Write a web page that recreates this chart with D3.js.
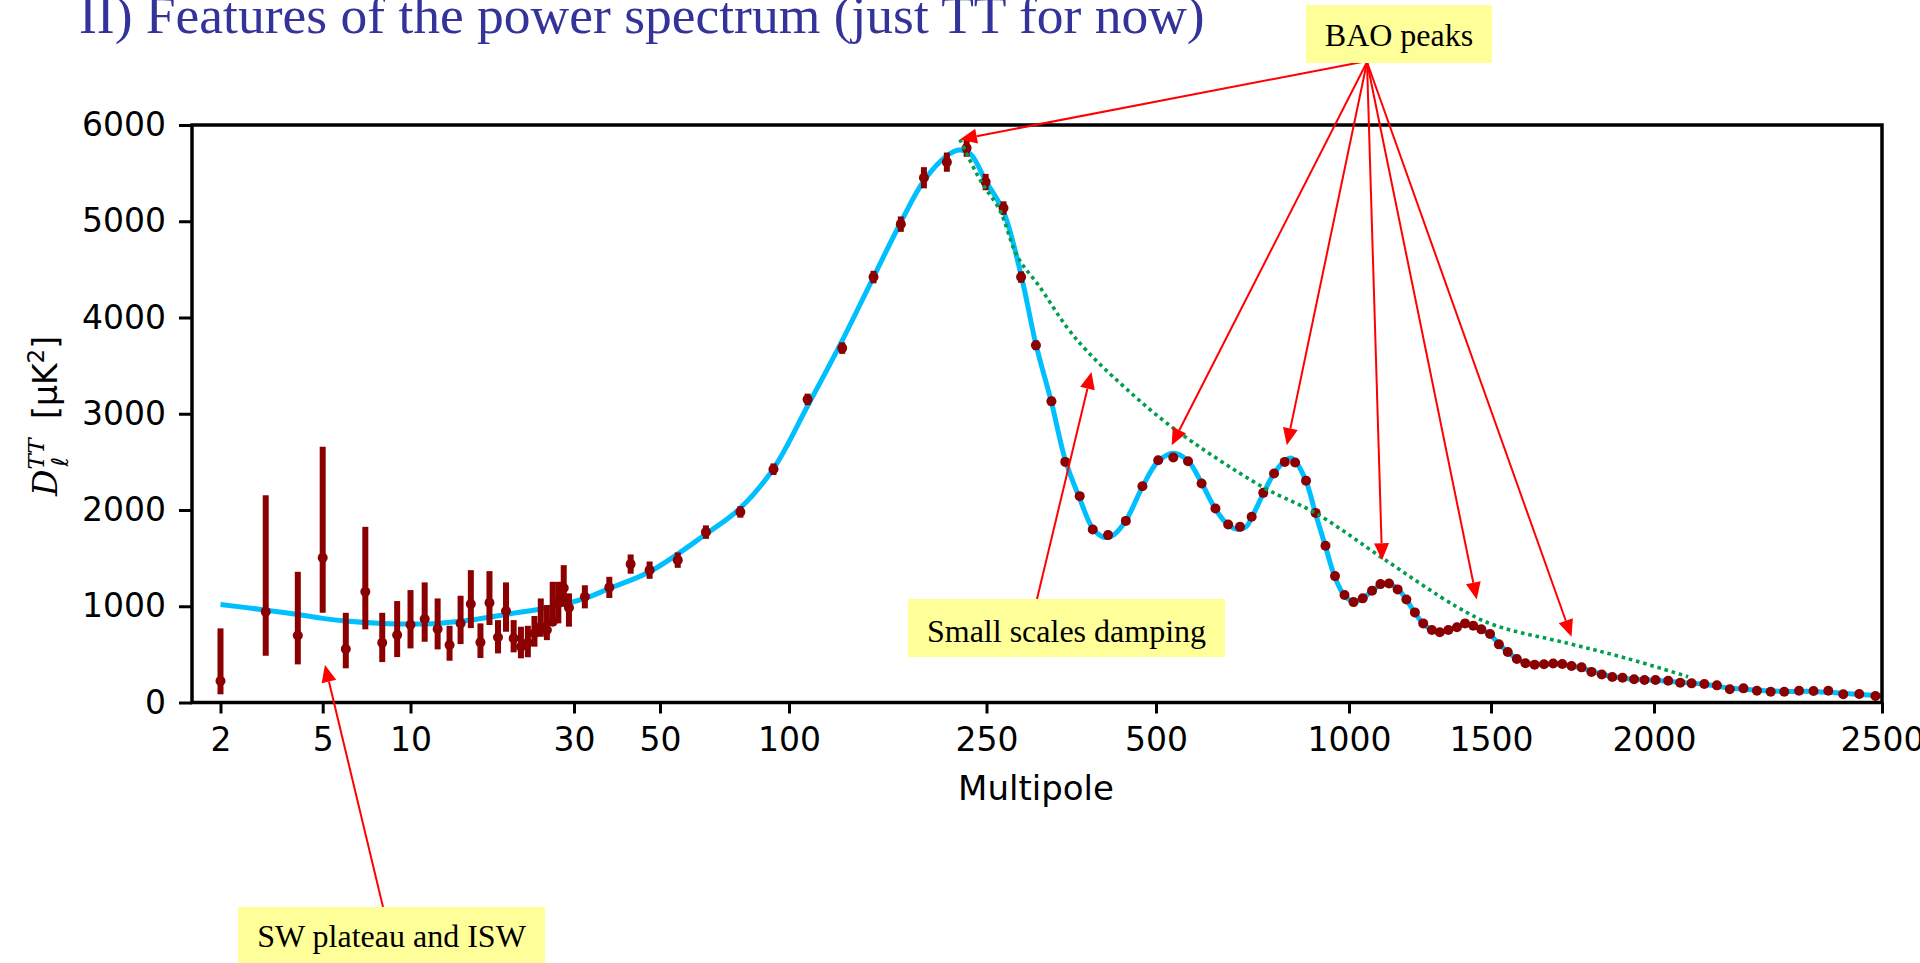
<!DOCTYPE html>
<html>
<head>
<meta charset="utf-8">
<script src="https://cdn.jsdelivr.net/npm/d3@7"></script>
<style>
  body { margin: 0; background: #fff; }
  svg { display: block; }
</style>
</head>
<body>
<svg id="chart" width="1920" height="963"></svg>
<script>
// ---- datos ----

// marcas del eje x (multipolo)
var tickEll = [2, 5, 10, 30, 50, 100, 250, 500, 1000, 1500, 2000, 2500];
var tickDl = [0, 1000, 2000, 3000, 4000, 5000, 6000];

// multipolos bajos, sin agrupar (l = 2..29)
var lowEll = [2, 3, 4, 5, 6, 7, 8, 9, 10, 11, 12, 13, 14, 15, 16, 17, 18, 19, 20, 21, 22, 23, 24, 25, 26, 27, 28, 29];
var lowDl  = [223, 943, 697, 1503, 555, 1150, 621, 701, 808, 867, 763, 597, 822, 1023, 625, 1036, 677, 950, 666, 580, 621, 718, 787, 753, 839, 1047, 1190, 984];
var lowMin = [85, 486, 396, 932, 355, 760, 420, 472, 562, 631, 552, 434, 607, 773, 462, 805, 510, 735, 521, 459, 470, 580, 683, 648, 805, 822, 995, 788];
var lowMax = [770, 2154, 1358, 2656, 932, 1825, 932, 1054, 1168, 1248, 1081, 797, 1109, 1375, 822, 1365, 856, 1248, 856, 787, 797, 899, 1081, 1012, 1254, 1254, 1427, 1134];

// multipolos altos, agrupados
var binEll = [32, 37, 42, 47, 55, 64, 77, 92, 109, 128, 148, 168, 187, 208, 228, 249, 268, 288, 306, 326,
              345, 366, 386, 411, 442, 473, 504, 532, 561, 589, 619, 648, 676, 705, 735, 764, 794, 824, 857, 887,
              919, 951, 984, 1013, 1040, 1068, 1094, 1121, 1149, 1178, 1207, 1236, 1267, 1296, 1328, 1361, 1393, 1426, 1459, 1496,
              1521, 1545, 1570, 1594, 1620, 1647, 1674, 1701, 1729, 1760, 1791, 1824, 1858, 1892, 1931, 1967, 2003, 2028, 2052, 2075,
              2101, 2127, 2154, 2183, 2212, 2242, 2272, 2305, 2338, 2372, 2407, 2445, 2484];
var binDl  = [1098, 1196, 1438, 1375, 1479, 1770, 1980, 2424, 3149, 3682, 4420, 4970, 5452, 5614, 5760, 5407, 5137, 4420, 3711, 3130,
              2500, 2144, 1798, 1739, 1887, 2247, 2517, 2545, 2507, 2275, 2016, 1850, 1825, 1929, 2178, 2379, 2500, 2493, 2303, 1970,
              1628, 1313, 1116, 1043, 1082, 1161, 1230, 1237, 1175, 1071, 936, 822, 753, 729, 753, 781, 822, 797, 760, 711,
              604, 524, 452, 407, 393, 397, 405, 400, 379, 365, 318, 290, 265, 257, 241, 234, 234, 226, 206, 199,
              192, 178, 137, 147, 122, 112, 112, 122, 119, 122, 85, 88, 67];
var binErr = [120, 110, 100, 90, 80, 70, 60, 60, 60, 60, 65, 80, 110, 100, 90, 85, 70, 60, 50, 45,
              40, 40, 35, 35, 30, 30, 30, 30, 30, 30, 28, 28, 28, 28, 28, 28, 28, 28, 28, 28,
              25, 25, 25, 22, 22, 22, 22, 22, 20, 20, 20, 20, 18, 18, 18, 18, 18, 18, 18, 18,
              16, 16, 16, 16, 15, 15, 15, 15, 15, 15, 15, 15, 15, 15, 15, 15, 15, 15, 15, 15,
              15, 15, 15, 15, 15, 15, 15, 15, 15, 15, 15, 15, 15];

// curva del modelo (celeste)
var modelEll = [2, 3, 4, 5, 6, 8, 10, 12, 15, 19, 26, 32, 37, 47, 64, 77, 92, 109, 128, 148,
                168, 187, 208, 220, 232, 249, 268, 288, 306, 326, 345, 366, 386, 405, 420, 442, 473, 503, 532, 561,
                589, 619, 648, 672, 692, 705, 735, 764, 794, 812, 826, 857, 887, 919, 951, 984, 1013, 1040, 1068, 1094,
                1117, 1149, 1178, 1207, 1236, 1267, 1296, 1328, 1361, 1393, 1426, 1459, 1496, 1521, 1545, 1570, 1594, 1620, 1660, 1701,
                1729, 1760, 1791, 1824, 1858, 1892, 1931, 1967, 2003, 2051, 2101, 2154, 2212, 2272, 2338, 2407, 2500];
var modelDl  = [1019, 960, 915, 874, 847, 822, 815, 822, 857, 915, 995, 1081, 1185, 1358, 1750, 2020, 2430, 3080, 3760, 4420,
                4990, 5420, 5680, 5740, 5700, 5420, 5100, 4440, 3720, 3120, 2520, 2120, 1810, 1715, 1740, 1890, 2240, 2500, 2590, 2510,
                2280, 2010, 1845, 1800, 1830, 1920, 2170, 2380, 2510, 2540, 2500, 2300, 1960, 1620, 1300, 1110, 1050, 1080, 1160, 1220,
                1240, 1180, 1070, 930, 820, 750, 730, 750, 785, 810, 800, 760, 705, 610, 525, 455, 410, 398, 400, 398,
                380, 360, 325, 295, 268, 255, 242, 235, 230, 210, 190, 150, 128, 115, 115, 95, 70];

// envolvente de amortiguamiento (verde punteada)
var envEll = [221, 243, 264, 284, 311, 347, 376, 420, 529, 733, 889, 1102, 1360, 1508, 1719, 1906, 2068];
var envDl  = [5850, 5424, 5113, 4628, 4316, 3901, 3659, 3382, 2863, 2240, 1964, 1497, 995, 805, 614, 459, 268];

// destinos de las flechas (en unidades de datos)
var baoEll = [221, 529, 800, 1099, 1440, 1729];
var baoDl  = [5850, 2673, 2673, 1479, 1071, 683];

// ---- dimensiones ----
var plot = { left: 192, right: 1882, top: 125, bottom: 702.5 };

var svg = d3.select("#chart");

// eje x: logaritmico por tramos entre las marcas
var xStops = [220.5, 322.7, 410.5, 574, 660, 789, 986.5, 1156, 1349, 1491, 1654, 1882];
var xLog = d3.scaleLinear()
    .domain(tickEll.map(Math.log))
    .range(xStops);
function xs(l) { return xLog(Math.log(l)); }

var y = d3.scaleLinear()
    .domain([0, 6000])
    .range([plot.bottom, plot.top]);

// titulo
svg.append("text")
    .attr("x", 79)
    .attr("y", 33)
    .style("font-family", "'Liberation Serif', 'Times New Roman', serif")
    .style("font-size", "53.5px")
    .style("fill", "#333399")
    .text("II) Features of the power spectrum (just TT for now)");

// curva del modelo
var modelPts = modelEll.map(function(l, i) { return [l, modelDl[i]]; });
var line = d3.line()
    .x(function(d) { return xs(d[0]); })
    .y(function(d) { return y(d[1]); })
    .curve(d3.curveCatmullRom.alpha(0.5));

svg.append("path")
    .datum(modelPts)
    .attr("d", line)
    .attr("fill", "none")
    .attr("stroke", "#00bfff")
    .attr("stroke-width", 5);

// barras de error
var lowPts = lowEll.map(function(l, i) { return { l: l, d: lowDl[i], lo: lowMin[i], hi: lowMax[i] }; });
var binPts = binEll.map(function(l, i) { return { l: l, d: binDl[i], lo: binDl[i] - binErr[i], hi: binDl[i] + binErr[i] }; });
var allPts = lowPts.concat(binPts);

svg.append("g").selectAll("line")
    .data(allPts)
    .enter().append("line")
    .attr("x1", function(d) { return xs(d.l); })
    .attr("x2", function(d) { return xs(d.l); })
    .attr("y1", function(d) { return y(d.lo); })
    .attr("y2", function(d) { return y(d.hi); })
    .attr("stroke", "#8b0000")
    .attr("stroke-width", 6);

// puntos
svg.append("g").selectAll("circle")
    .data(allPts)
    .enter().append("circle")
    .attr("cx", function(d) { return xs(d.l); })
    .attr("cy", function(d) { return y(d.d); })
    .attr("r", 5)
    .attr("fill", "#8b0000");

// envolvente punteada
var envPts = envEll.map(function(l, i) { return [l, envDl[i]]; });
svg.append("path")
    .datum(envPts)
    .attr("d", line)
    .attr("fill", "none")
    .attr("stroke", "#009e4f")
    .attr("stroke-width", 3.6)
    .attr("stroke-dasharray", "3.6,3.8");

// ejes
var xAxis = d3.axisBottom(xLog)
    .tickValues(tickEll.map(Math.log))
    .tickFormat(function(d) { return Math.round(Math.exp(d)); })
    .tickSize(11)
    .tickPadding(14);

var gx = svg.append("g")
    .attr("transform", "translate(0," + plot.bottom + ")")
    .call(xAxis);

var yAxis = d3.axisLeft(y)
    .tickValues(tickDl)
    .tickFormat(d3.format("d"))
    .tickSize(13)
    .tickPadding(13);

var gy = svg.append("g")
    .attr("transform", "translate(" + plot.left + ",0)")
    .call(yAxis);

[gx, gy].forEach(function(g) {
    g.select(".domain").remove();
    g.selectAll(".tick line").attr("stroke", "#000").attr("stroke-width", 3);
    g.selectAll(".tick text")
        .attr("fill", "#000")
        .style("font-family", "'DejaVu Sans', sans-serif")
        .style("font-size", "33px");
});

// marco completo
svg.append("rect")
    .attr("x", plot.left)
    .attr("y", plot.top)
    .attr("width", plot.right - plot.left)
    .attr("height", plot.bottom - plot.top)
    .attr("fill", "none")
    .attr("stroke", "#000")
    .attr("stroke-width", 3.5);

// etiquetas de ejes
svg.append("text")
    .attr("x", 1036)
    .attr("y", 800)
    .attr("text-anchor", "middle")
    .style("font-family", "'DejaVu Sans', sans-serif")
    .style("font-size", "34px")
    .text("Multipole");

var ylab = svg.append("text")
    .attr("transform", "translate(57,416) rotate(-90)")
    .attr("text-anchor", "middle")
    .style("font-family", "'DejaVu Sans', sans-serif")
    .style("font-size", "33px");
ylab.append("tspan")
    .style("font-family", "'DejaVu Serif', serif")
    .style("font-style", "italic")
    .text("D");
ylab.append("tspan")
    .attr("dy", -13)
    .style("font-family", "'DejaVu Serif', serif")
    .style("font-style", "italic")
    .style("font-size", "23px")
    .text("TT");
ylab.append("tspan")
    .attr("dx", -28)
    .attr("dy", 24)
    .style("font-style", "italic")
    .style("font-size", "23px")
    .text("\u2113");
ylab.append("tspan")
    .attr("dx", 38)
    .attr("dy", -11)
    .text("[\u03bcK");
ylab.append("tspan")
    .attr("dy", -13)
    .style("font-size", "23px")
    .text("2");
ylab.append("tspan")
    .attr("dy", 13)
    .text("]");

// ---- anotaciones ----
function arrow(x1, y1, x2, y2) {
    var ang = Math.atan2(y2 - y1, x2 - x1),
        len = 17, half = 7.5;
    var bx = x2 - len * Math.cos(ang),
        by = y2 - len * Math.sin(ang);
    svg.append("line")
        .attr("x1", x1).attr("y1", y1)
        .attr("x2", bx).attr("y2", by)
        .attr("stroke", "#ff0000")
        .attr("stroke-width", 2);
    svg.append("polygon")
        .attr("points", [
            [x2, y2],
            [bx + half * Math.sin(ang), by - half * Math.cos(ang)],
            [bx - half * Math.sin(ang), by + half * Math.cos(ang)]
        ].map(function(p) { return p.join(","); }).join(" "))
        .attr("fill", "#ff0000");
}

function box(text, x, y0, w, h, base) {
    svg.append("rect")
        .attr("x", x).attr("y", y0)
        .attr("width", w).attr("height", h)
        .attr("fill", "#ffff99");
    svg.append("text")
        .attr("x", x + w / 2)
        .attr("y", base)
        .attr("text-anchor", "middle")
        .style("font-family", "'Liberation Serif', 'Times New Roman', serif")
        .style("font-size", "32px")
        .attr("fill", "#000")
        .text(text);
}

baoEll.forEach(function(l, i) {
    arrow(i === 0 ? 1362 : 1367, 62, xs(l), y(baoDl[i]));
});
arrow(1037, 599, xs(384), y(3434));
arrow(383, 907, xs(5.09), y(389));

box("BAO peaks", 1306, 5, 186, 58, 46);
box("Small scales damping", 908, 599, 317, 58, 642);
box("SW plateau and ISW", 238, 907, 307, 60, 947);
</script>
</body>
</html>
